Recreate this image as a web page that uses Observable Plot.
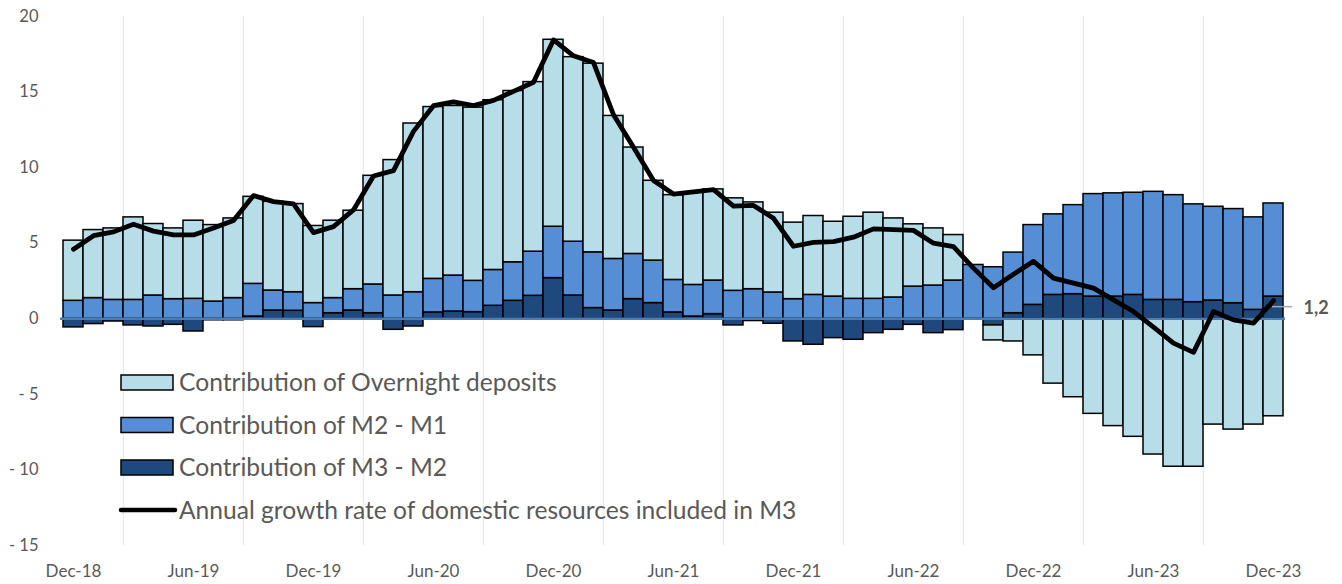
<!DOCTYPE html>
<html>
<head>
<meta charset="utf-8">
<script src="https://cdn.jsdelivr.net/npm/d3@7"></script>
<script src="https://cdn.jsdelivr.net/npm/@observablehq/plot@0.6"></script>
<style>
  body { margin: 0; background: #ffffff; }
  #wrap { position: relative; width: 1342px; height: 584px; }
  #legend { position: absolute; left: 0; top: 0; pointer-events: none; }
</style>
</head>
<body>
<div id="wrap"></div>
<script>
const months = [
  "Dec-18",
  "Jan-19","Feb-19","Mar-19","Apr-19","May-19","Jun-19","Jul-19","Aug-19","Sep-19","Oct-19","Nov-19","Dec-19",
  "Jan-20","Feb-20","Mar-20","Apr-20","May-20","Jun-20","Jul-20","Aug-20","Sep-20","Oct-20","Nov-20","Dec-20",
  "Jan-21","Feb-21","Mar-21","Apr-21","May-21","Jun-21","Jul-21","Aug-21","Sep-21","Oct-21","Nov-21","Dec-21",
  "Jan-22","Feb-22","Mar-22","Apr-22","May-22","Jun-22","Jul-22","Aug-22","Sep-22","Oct-22","Nov-22","Dec-22",
  "Jan-23","Feb-23","Mar-23","Apr-23","May-23","Jun-23","Jul-23","Aug-23","Sep-23","Oct-23","Nov-23","Dec-23"
];

const m3m2 = [
  -0.57,-0.35,-0.18,-0.44,-0.51,-0.40,-0.84,-0.10,-0.10,0.15,0.55,0.53,-0.55,
  0.37,0.55,0.37,-0.73,-0.51,0.42,0.48,0.44,0.86,1.19,1.52,2.69,
  1.54,0.71,0.55,1.30,1.04,0.42,0.15,0.31,-0.44,-0.15,-0.33,-1.50,
  -1.72,-1.28,-1.39,-0.95,-0.73,-0.40,-0.95,-0.75,0.00,-0.44,0.37,0.92,
  1.58,1.63,1.47,1.47,1.58,1.25,1.25,1.10,1.21,1.03,0.59,1.47
];

const m2m1 = [
  1.19,1.37,1.25,1.25,1.54,1.30,1.32,1.14,1.37,2.16,1.32,1.23,1.04,
  1.00,1.41,1.90,1.54,1.76,2.22,2.38,2.07,2.37,2.55,2.92,3.40,
  3.56,3.69,3.41,2.99,2.81,2.15,2.09,2.22,1.85,1.96,1.74,1.30,
  1.58,1.47,1.32,1.32,1.41,2.13,2.20,2.53,3.56,3.41,4.01,5.28,
  5.33,5.89,6.78,6.83,6.76,7.15,6.93,6.47,6.20,6.23,6.12,6.16
];

const overnight = [
  3.98,4.50,4.73,5.46,4.73,4.68,5.17,5.06,5.27,5.76,5.87,5.83,5.10,
  5.12,5.19,7.19,8.96,11.16,11.37,11.22,11.46,11.23,11.33,11.22,12.37,
  12.21,12.48,9.46,7.04,5.28,5.61,6.10,6.03,6.12,5.74,5.28,5.06,
  5.22,4.95,5.43,5.70,5.23,4.12,3.78,3.01,0.00,-0.99,-1.50,-2.42,
  -4.29,-5.19,-6.29,-7.10,-7.81,-8.98,-9.79,-9.79,-7.00,-7.33,-7.00,-6.45
];

const growth = [
  4.6,5.5,5.75,6.25,5.8,5.55,5.55,6.0,6.5,8.15,7.75,7.6,5.7,
  6.1,7.2,9.45,9.8,12.4,14.1,14.35,14.1,14.45,15.05,15.65,18.45,
  17.4,16.95,13.5,11.35,9.15,8.25,8.4,8.55,7.45,7.5,6.65,4.8,
  5.05,5.1,5.4,5.95,5.9,5.85,5.0,4.77,3.35,2.05,2.95,3.8,
  2.69,2.36,2.03,1.25,0.48,-0.55,-1.61,-2.22,0.48,-0.07,-0.29,1.2
];

const seriesNames = ["Contribution of M3 - M2", "Contribution of M2 - M1", "Contribution of Overnight deposits"];
const seriesColors = ["#1f497d", "#558ed5", "#b7dee8"];
const lineName = "Annual growth rate of domestic resources included in M3";
const legendOrder = ["Contribution of Overnight deposits", "Contribution of M2 - M1", "Contribution of M3 - M2"];

const xTicks = ["Dec-18","Jun-19","Dec-19","Jun-20","Dec-20","Jun-21","Dec-21","Jun-22","Dec-22","Jun-23","Dec-23"];
const gridMonths = ["Mar-19","Sep-19","Mar-20","Sep-20","Mar-21","Sep-21","Mar-22","Sep-22","Mar-23","Sep-23"];
const yTicks = [-15,-10,-5,0,5,10,15,20];
const endLabel = "1,2";

const seriesValues = [m3m2, m2m1, overnight];
const barRows = months.flatMap((m, i) =>
  seriesNames.map((s, k) => ({month: m, series: s, value: seriesValues[k][i]}))
);
const lineRows = months.map((m, i) => ({month: m, value: growth[i]}));
const lastRow = [lineRows[lineRows.length - 1]];

const W = 1342, H = 584;
const mL = 60, mR = 57, mT = 16, mB = 39;
const bw = (W - mL - mR) / months.length;
const textGray = "#595959";

const chart = Plot.plot({
  width: W,
  height: H,
  marginLeft: mL,
  marginRight: mR,
  marginTop: mT,
  marginBottom: mB,
  style: {fontFamily: "Lato, sans-serif", fontSize: "16px", color: textGray, background: "#ffffff"},
  x: {type: "band", domain: months, padding: 0, label: null},
  y: {domain: [-15, 20], label: null},
  color: {domain: seriesNames, range: seriesColors},
  marks: [
    Plot.ruleX(gridMonths, {x: d => d, dx: -bw / 2, stroke: "#ebebeb", strokeWidth: 1.5}),
    Plot.barY(barRows, {x: "month", y: "value", fill: "series", stroke: "#000000", strokeWidth: 1.5, order: seriesNames}),
    Plot.ruleY([0], {stroke: "#4a7ebb", strokeWidth: 2.5}),
    Plot.line(lineRows, {x: "month", y: "value", stroke: "#000000", strokeWidth: 4.8, strokeLinejoin: "round", strokeLinecap: "round"}),
    Plot.tickY(lastRow, {x: "month", y: "value", dx: 9, dy: 6, stroke: "#a6a6a6", strokeWidth: 1.5}),
    Plot.text(lastRow, {x: "month", y: "value", text: () => endLabel, dx: 30, dy: 8, textAnchor: "start", fontWeight: "bold", fontSize: 18, fill: textGray}),
    Plot.axisY({ticks: yTicks, tickSize: 0, tickPadding: 22, tickFormat: d => d < 0 ? "- " + (-d) : String(d), fontSize: 16.5}),
    Plot.axisX({ticks: xTicks, tickSize: 0, tickPadding: 19, fontSize: 17})
  ]
});

const wrap = document.getElementById("wrap");
wrap.append(chart);

// In-plot legend (lower left)
const legendItems = legendOrder.map(name => ({name, color: seriesColors[seriesNames.indexOf(name)], kind: "box"}))
  .concat([{name: lineName, color: "#000000", kind: "line"}]);

const lg = d3.select(wrap).append("svg")
  .attr("id", "legend")
  .attr("width", W)
  .attr("height", H);

const lx = 121, ly = 375, lstep = 42.5, sw = 52, sh = 15;
const rows = lg.selectAll("g").data(legendItems).join("g")
  .attr("transform", (d, i) => `translate(${lx},${ly + i * lstep})`);
rows.filter(d => d.kind === "box").append("rect")
  .attr("width", sw).attr("height", sh)
  .attr("fill", d => d.color).attr("stroke", "#000").attr("stroke-width", 1.5);
rows.filter(d => d.kind === "line").append("line")
  .attr("x1", 0).attr("x2", sw + 2).attr("y1", sh / 2).attr("y2", sh / 2)
  .attr("stroke", "#000").attr("stroke-width", 4.5).attr("stroke-linecap", "round");
rows.append("text")
  .attr("x", sw + 6).attr("y", sh / 2).attr("dy", "0.36em")
  .attr("font-family", "Lato, sans-serif").attr("font-size", 24.6)
  .attr("fill", textGray)
  .text(d => d.name);
</script>
</body>
</html>
